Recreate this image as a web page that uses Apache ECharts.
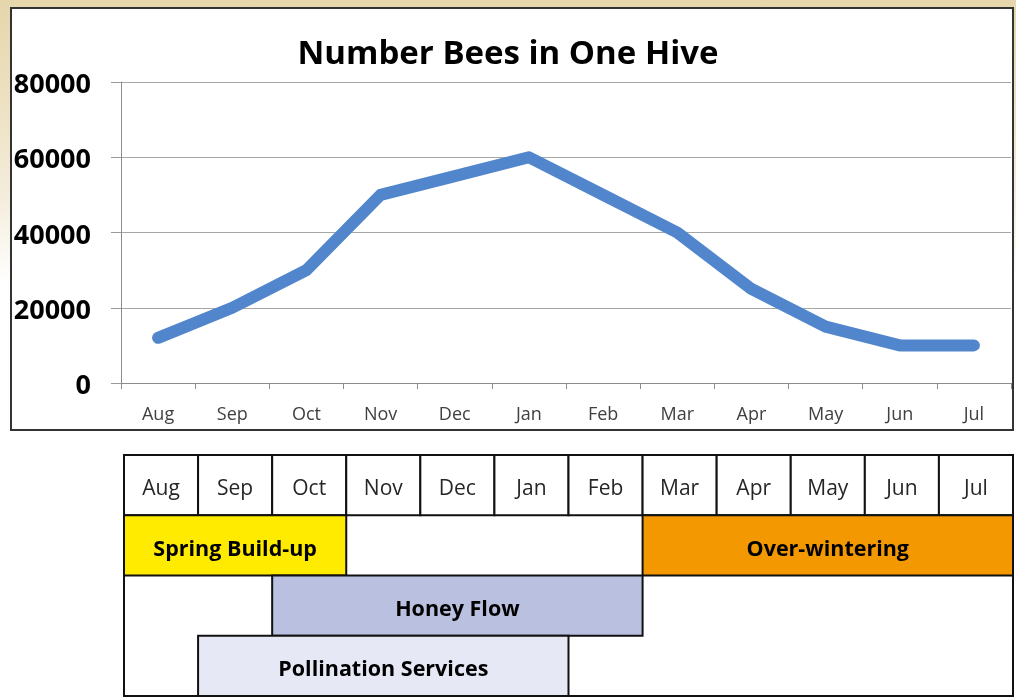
<!DOCTYPE html>
<html>
<head>
<meta charset="utf-8">
<script src="https://cdn.jsdelivr.net/npm/echarts@6/dist/echarts.min.js"></script>
<style>
  html, body { margin: 0; padding: 0; }
  #main {
    width: 1016px; height: 697px;
    background: linear-gradient(to bottom, #E6D6AC 0px, #EEE3C6 120px, #F4EEDD 200px, #FFFFFF 285px, #FFFFFF 697px);
  }
</style>
</head>
<body>
<div id="main"></div>
<script>
// ---- data ----
const months = ['Aug', 'Sep', 'Oct', 'Nov', 'Dec', 'Jan', 'Feb', 'Mar', 'Apr', 'May', 'Jun', 'Jul'];
const bees = [12000, 20000, 30000, 50000, 55000, 60000, 50000, 40000, 25000, 15000, 10000, 10000];
const yTicks = [0, 20000, 40000, 60000, 80000];
const phaseNames = ['Spring Build-up', 'Over-wintering', 'Honey Flow', 'Pollination Services'];
const phaseStart = [0, 7, 2, 1];   // first month index
const phaseEnd = [2, 11, 6, 5];    // last month index
const phaseRow = [1, 1, 2, 3];     // table row (0 = month header)
const tableRows = 4;

// ---- styles ----
const phaseColors = {
  'Spring Build-up': '#FFEB00',
  'Over-wintering': '#F39800',
  'Honey Flow': '#B9C0E0',
  'Pollination Services': '#E6E8F5'
};
const FONT = '"Open Sans", "Liberation Sans", sans-serif';

// build table cells from the arrays
const cells = [];
months.forEach((m, i) => cells.push({ v: [i, i + 1, 0, 1], text: m, fill: '#FFFFFF', bold: false }));
phaseNames.forEach((p, k) => cells.push({
  v: [phaseStart[k], phaseEnd[k] + 1, phaseRow[k], phaseRow[k] + 1],
  text: p, fill: phaseColors[p], bold: true
}));
cells.push({ v: [0, months.length, 0, tableRows], text: '', fill: null, bold: false });

const chart = echarts.init(document.getElementById('main'), null, { renderer: 'canvas' });

chart.setOption({
  animation: false,
  backgroundColor: 'transparent',
  title: {
    text: 'Number Bees in One Hive',
    left: 'center',
    top: 33,
    textStyle: { fontFamily: FONT, fontSize: 33, fontWeight: 'bold', color: '#000' }
  },
  graphic: [{
    type: 'rect',
    z: -10,
    shape: { x: 11, y: 8, width: 1002, height: 422 },
    style: { fill: '#FFFFFF', stroke: '#333333', lineWidth: 2 }
  }],
  grid: [
    { left: 121, right: 5, top: 82, bottom: 314, containLabel: false },
    { left: 124, right: 3, top: 455, bottom: 1, containLabel: false }
  ],
  xAxis: [{
    gridIndex: 0,
    type: 'category',
    data: months,
    boundaryGap: true,
    axisLine: { show: true, lineStyle: { color: '#8C8C8C', width: 1 } },
    axisTick: { show: true, length: 6, alignWithLabel: false, lineStyle: { color: '#8C8C8C' } },
    axisLabel: { fontFamily: FONT, fontSize: 18, color: '#404040', margin: 23 },
    splitLine: { show: false }
  }, {
    gridIndex: 1,
    type: 'value',
    min: 0, max: months.length,
    show: false
  }],
  yAxis: [{
    gridIndex: 0,
    type: 'value',
    min: yTicks[0],
    max: yTicks[yTicks.length - 1],
    interval: yTicks[1] - yTicks[0],
    axisLine: { show: true, lineStyle: { color: '#8C8C8C', width: 1 } },
    axisTick: { show: true, length: 10, lineStyle: { color: '#9A9A9A' } },
    axisLabel: {
      margin: 30,
      formatter: v => '{a|' + v + '}',
      rich: {
        a: { fontFamily: FONT, fontSize: 27, fontWeight: 'bold', color: '#000', padding: [7, 0, 0, 0] }
      }
    },
    splitLine: { show: true, lineStyle: { color: '#A6A6A6', width: 1.2 } }
  }, {
    gridIndex: 1,
    type: 'value',
    min: 0, max: tableRows,
    inverse: true,
    show: false
  }],
  series: [{
    type: 'line',
    xAxisIndex: 0, yAxisIndex: 0,
    data: bees,
    symbol: 'none',
    smooth: false,
    lineStyle: { color: '#5186CC', width: 12, cap: 'round', join: 'round' },
    z: 5
  }, {
    type: 'custom',
    xAxisIndex: 1, yAxisIndex: 1,
    clip: false,
    data: cells.map(c => c.v),
    renderItem: function (params, api) {
      const c = cells[params.dataIndex];
      const p0 = api.coord([api.value(0), api.value(2)]);
      const p1 = api.coord([api.value(1), api.value(3)]);
      const x = p0[0], y = Math.min(p0[1], p1[1]);
      const w = p1[0] - p0[0], h = Math.abs(p1[1] - p0[1]);
      const children = [{
        type: 'rect',
        shape: { x: x, y: y, width: w, height: h },
        style: { fill: c.fill || 'none', stroke: '#111111', lineWidth: 2 }
      }];
      if (c.text) {
        children.push({
          type: 'text',
          style: {
            x: x + w / 2, y: y + h / 2 + 4,
            text: c.text,
            align: 'center', verticalAlign: 'middle',
            fontFamily: FONT,
            fontSize: c.bold ? 21.5 : 21,
            fontWeight: c.bold ? 'bold' : 'normal',
            fill: c.bold ? '#000' : '#262626'
          }
        });
      }
      return { type: 'group', children: children };
    }
  }]
});
</script>
</body>
</html>
